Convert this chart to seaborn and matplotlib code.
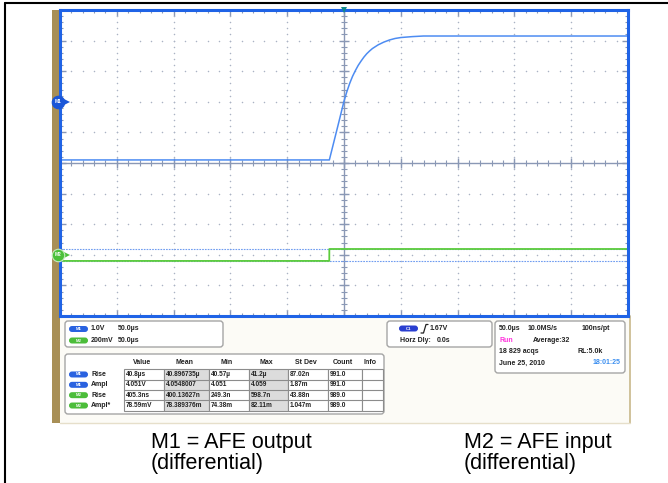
import numpy as np
import pandas as pd
import matplotlib
matplotlib.use("Agg")
import matplotlib.pyplot as plt
import seaborn as sns
from matplotlib.patches import Rectangle, FancyBboxPatch
from matplotlib.lines import Line2D
from matplotlib.transforms import Affine2D

# ---------------- data ----------------
m1_time_us = [-250, -12.9, -10, -5, 0, 2.5, 5, 7.5, 10, 12.5, 15, 17.5, 20, 22.5, 25,
              30, 35, 40, 45, 50, 60, 70, 250]
m1_volts = [-1.90, -1.90, -1.47, -0.73, 0.02, 0.33, 0.60, 0.83, 1.02, 1.19, 1.33, 1.46,
            1.57, 1.66, 1.74, 1.86, 1.95, 2.02, 2.07, 2.10, 2.13, 2.15, 2.15]
m2_time_us = [-250, -12.95, -12.9, 250]
m2_mv = [-40, -40, 38, 38]
m2_cursor_mv = [-40, 38]

m1_volts_per_div = 1.0
m1_offset_div = 2.0
m2_mv_per_div = 200.0
m2_offset_div = -3.0
time_per_div_us = 50.0

ch_settings = [("M1", "1.0V", "50.0µs"), ("M2", "200mV", "50.0µs")]
headers = ["Value", "Mean", "Min", "Max", "St Dev", "Count", "Info"]
row_channels = ["M1", "M1", "M2", "M2"]
row_names = ["Rise", "Ampl", "Rise", "Ampl*"]
table_values = [
    ["40.8µs", "40.896735µ", "40.57µ", "41.2µ", "87.02n", "991.0", ""],
    ["4.051V", "4.0548007", "4.051", "4.059", "1.87m", "991.0", ""],
    ["405.3ns", "400.13627n", "249.3n", "598.7n", "43.88n", "989.0", ""],
    ["78.59mV", "78.389376m", "74.38m", "82.11m", "1.047m", "989.0", ""],
]
caption_left = ["M1 = AFE output", "(differential)"]
caption_right = ["M2 = AFE input", "(differential)"]

# ---------------- style ----------------
sns.set_theme(style="white")
plt.rcParams["font.family"] = ["Liberation Sans", "DejaVu Sans"]

W, H = 668, 483
fig = plt.figure(figsize=(W / 100, H / 100), dpi=100)
fig.patch.set_facecolor("white")
T = Affine2D().scale(1 / W, -1 / H).translate(0, 1) + fig.transFigure

BLUE_BORDER = "#1f63e6"
TICK = "#8a98b5"
GRID = "#aab2c4"
M1C = "#4d8cf2"
M2C = "#5ccc3c"

# outer frame
fig.add_artist(Line2D([5, 668], [3, 3], transform=T, color="black", lw=1.5))
fig.add_artist(Line2D([5, 5], [3, 483], transform=T, color="black", lw=1.5))

# scope panel background and brown strip
fig.add_artist(Rectangle((60, 316), 570, 107, transform=T, facecolor="#fcfbf6",
                         edgecolor="none", zorder=0))
fig.add_artist(Rectangle((52, 10), 8, 413, transform=T, facecolor="#a88f56",
                         edgecolor="none", zorder=1))
fig.add_artist(Line2D([629.5, 629.5], [316, 423], transform=T, color="#c8b88a", lw=1.2))
fig.add_artist(Line2D([60, 630], [423, 423], transform=T, color="#e6dfca", lw=1.0))

# ---------------- main scope axes ----------------
ax = fig.add_axes([60 / W, 1 - 316 / H, 568 / W, 306 / H])
ax.set_zorder(5)
ax.set_facecolor("white")
half_t = 5 * time_per_div_us
ax.set_xlim(-half_t, half_t)
ax.set_ylim(-5, 5)

# dotted grid
xs_minor = np.arange(-half_t, half_t + 0.1, time_per_div_us / 5)
ys_minor = np.arange(-5, 5.01, 0.2)
for xd in np.arange(-4, 5):
    if xd == 0:
        continue
    ax.plot(np.full_like(ys_minor, xd * time_per_div_us), ys_minor, ls="none", marker="o",
            ms=1.1, mew=0, color=GRID, zorder=1)
for yd in np.arange(-4, 5):
    if yd == 0:
        continue
    ax.plot(xs_minor, np.full_like(xs_minor, yd), ls="none", marker="o", ms=1.1, mew=0,
            color=GRID, zorder=1)

# centre axes with ticks
ax.axhline(0, color=TICK, lw=1.0, zorder=2)
ax.axvline(0, color=TICK, lw=1.0, zorder=2)
ax.plot(xs_minor, np.zeros_like(xs_minor), ls="none", marker="|", ms=4.5, mew=0.8,
        color=TICK, zorder=2)
ax.plot(np.arange(-half_t, half_t + 1, time_per_div_us), np.zeros(11), ls="none",
        marker="|", ms=7, mew=1.0, color=TICK, zorder=2)
ax.plot(np.zeros_like(ys_minor), ys_minor, ls="none", marker="_", ms=4.5, mew=0.8,
        color=TICK, zorder=2)
ax.plot(np.zeros(11), np.arange(-5, 6), ls="none", marker="_", ms=7, mew=1.0,
        color=TICK, zorder=2)

# border ticks
ax.set_xticks(np.arange(-half_t, half_t + 1, time_per_div_us))
ax.set_xticks(xs_minor, minor=True)
ax.set_yticks(np.arange(-5, 6))
ax.set_yticks(ys_minor, minor=True)
ax.tick_params(which="both", direction="in", top=True, right=True, bottom=True, left=True,
               labelbottom=False, labelleft=False, color=TICK)
ax.tick_params(which="major", length=4, width=1.0)
ax.tick_params(which="minor", length=2.5, width=0.8)
for s in ax.spines.values():
    s.set_color(BLUE_BORDER)
    s.set_linewidth(2.2)
    s.set_zorder(6)

# cursor lines for M2
for mv in m2_cursor_mv:
    ax.axhline(mv / m2_mv_per_div + m2_offset_div, color="#6f9cf0", lw=0.8,
               ls=(0, (1.5, 1)), zorder=3)

# traces
df1 = pd.DataFrame({"t": m1_time_us,
                    "div": np.array(m1_volts) / m1_volts_per_div + m1_offset_div})
df2 = pd.DataFrame({"t": m2_time_us,
                    "div": np.array(m2_mv) / m2_mv_per_div + m2_offset_div})
sns.lineplot(data=df1, x="t", y="div", ax=ax, color=M1C, lw=1.1, estimator=None,
             sort=False, zorder=4)
sns.lineplot(data=df2, x="t", y="div", ax=ax, color=M2C, lw=1.3, estimator=None,
             sort=False, zorder=4)
ax.set_xlabel("")
ax.set_ylabel("")

# channel markers at left edge
px_t = time_per_div_us / (568 / 10)  # µs per pixel
for name, ydiv, col, edge in [("M1", m1_offset_div, "#1a56d8", "#1a56d8"),
                              ("M2", m2_offset_div, "#4cc03a", "#c8ecc0")]:
    ax.plot([-half_t + 7 * px_t], [ydiv], marker=">", ms=5, color=col, clip_on=False,
            zorder=8, mew=0)
    ax.plot([-half_t - 2 * px_t], [ydiv], marker="o", ms=9, color=col, mec=edge,
            mew=0.8, clip_on=False, zorder=9)
    ax.text(-half_t - 2 * px_t, ydiv, name, color="white", fontsize=3.4, ha="center",
            va="center", zorder=10, clip_on=False, fontweight="bold")
# trigger marker at top
ax.plot([0], [5.0], marker="v", ms=4.5, color="#138a8a", clip_on=False, zorder=9, mew=0)

# ---------------- readout panel ----------------
FS = 5.0
TXT = "#222222"


def box(x0, y0, x1, y1):
    fig.add_artist(FancyBboxPatch((x0, y0), x1 - x0, y1 - y0,
                                  boxstyle="round,pad=0,rounding_size=3", transform=T,
                                  facecolor="white", edgecolor="#a5a5a5", lw=1.0, zorder=2))


def pill(x0, yc, label, col, w=19):
    fig.add_artist(FancyBboxPatch((x0, yc - 3), w, 6, boxstyle="round,pad=0,rounding_size=3",
                                  transform=T, facecolor=col, edgecolor="none", zorder=3))
    fig.text((x0 + w / 2) / W, 1 - yc / H, label, fontsize=3.2, color="white",
             ha="center", va="center", fontweight="bold", zorder=4)


def txt(x, y, s, color=TXT, ha="left", size=FS):
    fig.text(x / W, 1 - y / H, s, fontsize=size, color=color, ha=ha, va="center",
             fontweight="bold", zorder=4)


chan_color = {"M1": "#2a62e0", "M2": "#4cbd3a"}

# channel settings box
box(65, 321, 223, 347)
for i, (ch, vdiv, tdiv) in enumerate(ch_settings):
    yc = 329 + i * 11.5
    pill(69, yc, ch, chan_color[ch])
    txt(91, yc, vdiv)
    txt(118, yc, tdiv)

# measurement table
box(65, 354, 384, 414)
col_edges = [124, 164, 209, 249, 288, 328, 362, 383]
row_top, row_h = 369.3, 10.35
for j, hname in enumerate(headers):
    txt((col_edges[j] + col_edges[j + 1]) / 2 - 2, 362, hname, ha="center")
for j in range(len(headers)):
    shade = "#dcdcdc" if headers[j] in ("Mean", "Max") else "white"
    fig.add_artist(Rectangle((col_edges[j], row_top), col_edges[j + 1] - col_edges[j],
                             row_h * 4, transform=T, facecolor=shade,
                             edgecolor="#8c8c8c", lw=0.8, zorder=2))
for i in range(1, 4):
    yy = row_top + i * row_h
    fig.add_artist(Line2D([col_edges[0], col_edges[-1]], [yy, yy], transform=T,
                          color="#8c8c8c", lw=0.8, zorder=3))
for i, (ch, nm) in enumerate(zip(row_channels, row_names)):
    yc = row_top + (i + 0.5) * row_h
    pill(69, yc, ch, chan_color[ch])
    txt(91, yc, nm)
    for j, v in enumerate(table_values[i]):
        txt(col_edges[j] + 2, yc, v, size=4.7)

# trigger box
box(387, 321, 492, 347)
pill(399, 328.5, "C1", "#2a3fd0")
fig.add_artist(Line2D([421, 423.5, 426, 428], [333, 333, 324.5, 324.5], transform=T,
                      color="#222222", lw=0.9, zorder=4))
txt(430, 328.5, "1.67V")
txt(400, 340, "Horz Dly:")
txt(437, 340, "0.0s")

# timebase box
box(495, 321, 625, 373)
txt(499, 328.5, "50.0µs")
txt(528, 328.5, "10.0MS/s")
txt(582, 328.5, "100ns/pt")
txt(499, 340, "Run", color="#ff33dd")
txt(533, 340, "Average:32")
txt(499, 351.5, "18 829 acqs")
txt(578, 351.5, "RL:5.0k")
txt(499, 363, "June 25, 2010")
txt(593, 363, "18:01:25", color="#3a8ef0")

# ---------------- captions ----------------
for k, line in enumerate(caption_left):
    fig.text(151 / W, 1 - (448 + k * 21) / H, line, fontsize=15.5, color="black",
             ha="left", va="baseline")
for k, line in enumerate(caption_right):
    fig.text(464 / W, 1 - (448 + k * 21) / H, line, fontsize=15.5, color="black",
             ha="left", va="baseline")

fig.savefig("out.png", dpi=100, facecolor="white")
